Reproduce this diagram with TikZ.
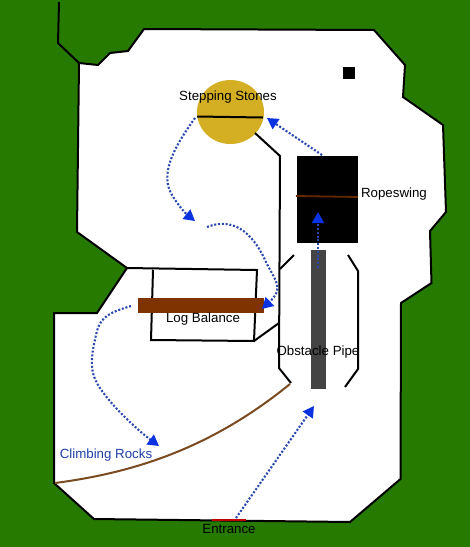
\documentclass[tikz,border=0pt]{standalone}
\usepackage{fontspec}
\setmainfont{Liberation Sans}
\usetikzlibrary{arrows.meta}
\definecolor{grass}{HTML}{267A00}
\definecolor{gold}{HTML}{D4AF24}
\definecolor{logbrown}{HTML}{7F3300}
\definecolor{curvebrown}{HTML}{7A4A20}
\definecolor{pipegrey}{HTML}{444444}
\definecolor{route}{HTML}{0A32E0}
\definecolor{routedot}{HTML}{2A48B0}
\definecolor{rocktext}{HTML}{2040A8}
\tikzset{
  wall/.style={draw=black,line width=2pt,line join=miter},
  routeline/.style={draw=routedot,line width=2.1pt,dash pattern=on 2pt off 1.8pt,
    -{Triangle[length=11pt,width=12pt,color=route]}},
  lbl/.style={font=\fontsize{13.3}{15}\selectfont,inner sep=0pt,text=black},
}
\begin{document}
\begin{tikzpicture}[x=1pt,y=-1pt]
\useasboundingbox (0,0) rectangle (470,547);
\fill[grass] (0,0) rectangle (470,547);
% ground
\draw[wall,fill=white] (79,63) -- (98,65) -- (110,53) -- (128,51) -- (144,29) -- (374,30) -- (405,65) -- (403,97) -- (443,125) -- (446,212) -- (430,231) -- (431.5,283) -- (401,303) -- (400.5,479) -- (350,522) -- (94,519) -- (54,483) -- (54,313) -- (97,313) -- (127,268) -- (77,232) -- cycle;
\draw[wall] (59,2) -- (58,43) -- (79,63);
% obstacles
\fill (343,67) rectangle (355,79);
\fill[black] (297,156) rectangle (358,243);
\draw[logbrown!80!black,line width=1.8pt] (296,196) -- (358,197);
\fill[gold] (230.5,112) ellipse [x radius=33.5,y radius=32];
\draw[black,line width=2pt] (197,116.5) -- (263,117.5);
\fill[pipegrey] (311,250) rectangle (326,389);
% log balance frame
\draw[wall] (127,268) -- (257,270) -- (254,341) -- (151,340) -- (153,270);
\draw[wall] (254,341) -- (279,323);
\fill[logbrown] (138,298) rectangle (264,313);
% pipe walls
\draw[wall] (255,133) -- (280,156) -- (279,368) -- (291,383);
\draw[wall] (280,269) -- (294,255);
\draw[wall] (348,255) -- (358,271) -- (358,369) -- (345,387);
% entrance and rope
\draw[red!75!black,line width=1.8pt] (212,520) -- (246,520);
\draw[curvebrown,line width=2pt] (55,483) .. controls (140,472) and (215,445) .. (290,384);
% route points
\coordinate (pipeOut) at (236,518);
\coordinate (pipeIn) at (314,406);
\coordinate (swingA) at (318,268);
\coordinate (swingB) at (318,212);
\coordinate (swingOut) at (322,155);
\coordinate (stonesIn) at (267,118);
\coordinate (stonesOut) at (195,118);
\coordinate (stEnd) at (195,221);
\coordinate (logStart) at (207,227);
\coordinate (logEnd) at (262,309);
\coordinate (rockStart) at (131,306);
\coordinate (rockEnd) at (159,446);
% routes
\draw[routeline] (pipeOut) -- (pipeIn);
\draw[routeline] (swingA) -- (swingB);
\draw[routeline] (swingOut) -- (stonesIn);
\draw[routeline] (stonesOut) .. controls (172,150) and (160,175) .. (172,195) .. controls (178,205) and (185,213) .. (stEnd);
\draw[routeline] (logStart) .. controls (225,220) and (248,222) .. (266,262) .. controls (276,282) and (284,288) .. (logEnd);
\draw[routeline] (rockStart) .. controls (112,312) and (100,315) .. (96,335) .. controls (88,368) and (92,378) .. (105,395) .. controls (118,412) and (140,432) .. (rockEnd);
% labels
\node[lbl] (stones) at (228,97) {Stepping Stones};
\node[lbl] (swing) at (394,194) {Ropeswing};
\node[lbl] (logbal) at (203,319) {Log Balance};
\node[lbl] (pipe) at (318,352) {Obstacle Pipe};
\node[lbl,text=rocktext] (rocks) at (106,455.5) {Climbing Rocks};
\node[lbl] (entr) at (229,528.5) {Entrance};
\end{tikzpicture}
\end{document}
